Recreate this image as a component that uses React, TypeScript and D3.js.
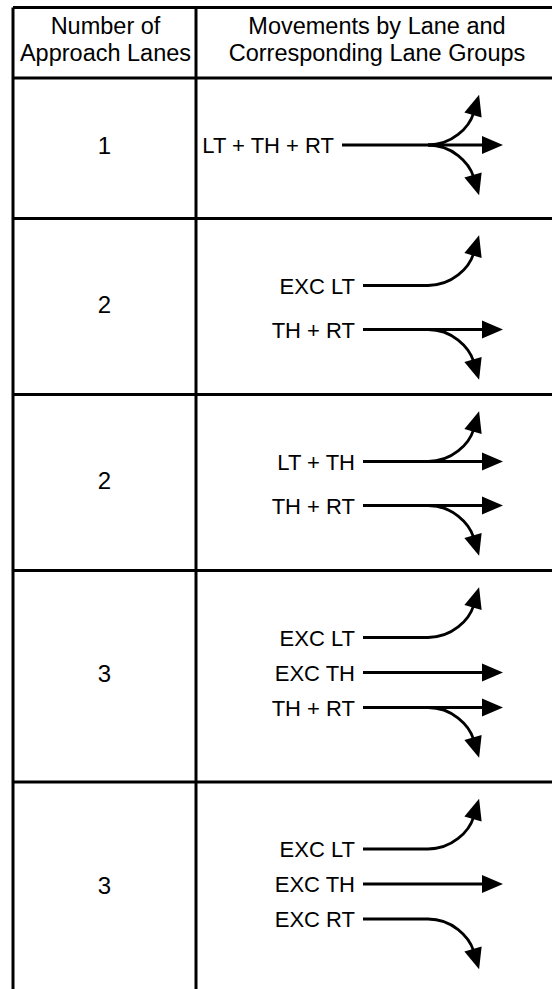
import React from 'react'
import * as d3 from 'd3'

// table content
const laneCounts = ['1', '2', '2', '3', '3']
const headerLeft = ['Number of', 'Approach Lanes']
const headerRight = ['Movements by Lane and', 'Corresponding Lane Groups']
const laneLabels = [
  ['LT + TH + RT'],
  ['EXC LT', 'TH + RT'],
  ['LT + TH', 'TH + RT'],
  ['EXC LT', 'EXC TH', 'TH + RT'],
  ['EXC LT', 'EXC TH', 'EXC RT']
]
const laneMovements = [
  [['LT', 'TH', 'RT']],
  [['LT'], ['TH', 'RT']],
  [['LT', 'TH'], ['TH', 'RT']],
  [['LT'], ['TH'], ['TH', 'RT']],
  [['LT'], ['TH'], ['RT']]
]

const width = 552
const height = 989
const font = '"Liberation Sans", Arial, sans-serif'

const tableLeft = 13
const colDivider = 196
const tableRight = 558
const tableTop = 7.5
const headerBottom = 78

const headLen = 21
const headHalf = 9
const throughTip = 503
const branchX = 428

const rowHeight = (n: number) => 105 + 35.5 * n

function arrowHead(tip: number[], dir: number[]) {
  const bx = tip[0] - dir[0] * headLen
  const by = tip[1] - dir[1] * headLen
  const px = -dir[1] * headHalf
  const py = dir[0] * headHalf
  const p = d3.path()
  p.moveTo(tip[0], tip[1])
  p.lineTo(bx + px, by + py)
  p.lineTo(bx - px, by - py)
  p.closePath()
  return p.toString()
}

function Lane({ y, label, moves, lineStart }: { y: number, label: string, moves: string[], lineStart: number }) {
  const hasTH = moves.includes('TH')
  const stem = d3.path()
  stem.moveTo(lineStart, y)
  stem.lineTo(hasTH ? throughTip - headLen + 2 : branchX, y)

  const turns = moves.filter(m => m !== 'TH').map(m => {
    const sgn = m === 'LT' ? -1 : 1
    const dir = [0.29, sgn * 0.96]
    const end = [branchX + 45, y + sgn * 30]
    const c = d3.path()
    c.moveTo(branchX, y)
    c.bezierCurveTo(branchX + 24, y, end[0] - dir[0] * 13, end[1] - dir[1] * 13, end[0] + dir[0] * 2, end[1] + dir[1] * 2)
    const tip = [end[0] + dir[0] * headLen, end[1] + dir[1] * headLen]
    return { key: m, curve: c.toString(), head: arrowHead(tip, dir) }
  })

  return (
    <g>
      <text x={lineStart - 8} y={y + 8} textAnchor="end" fontSize={22} fontFamily={font} fill="#000">{label}</text>
      <path d={stem.toString()} stroke="#000" strokeWidth={2.8} fill="none" />
      {hasTH && <path d={arrowHead([throughTip, y], [1, 0])} fill="#000" />}
      {turns.map(t => (
        <g key={t.key}>
          <path d={t.curve} stroke="#000" strokeWidth={2.8} fill="none" />
          <path d={t.head} fill="#000" />
        </g>
      ))}
    </g>
  )
}

export default function App() {
  const heights = laneLabels.map(l => rowHeight(l.length))
  const tops = [headerBottom, ...Array.from(d3.cumsum(heights)).map(h => headerBottom + h)]
  const leftMid = (tableLeft + colDivider) / 2
  const rightMid = (colDivider + tableRight) / 2

  return (
    <div style={{ position: 'absolute', left: 0, top: 0 }}>
      <svg width={width} height={height} style={{ display: 'block', background: '#fff' }}>
        {/* grid */}
        <g stroke="#000" strokeWidth={3}>
          <line x1={tableLeft} x2={tableRight} y1={tableTop} y2={tableTop} />
          {tops.map((t, i) => (
            <line key={i} x1={tableLeft} x2={tableRight} y1={t} y2={t} />
          ))}
          <line x1={tableLeft} x2={tableLeft} y1={tableTop} y2={tops[tops.length - 1]} />
          <line x1={colDivider} x2={colDivider} y1={tableTop} y2={tops[tops.length - 1]} />
          <line x1={tableRight} x2={tableRight} y1={tableTop} y2={tops[tops.length - 1]} />
        </g>

        {/* header */}
        <g fontFamily={font} fontSize={23.5} fill="#000" textAnchor="middle">
          {headerLeft.map((t, i) => (
            <text key={i} x={leftMid + 1} y={34 + i * 27}>{t}</text>
          ))}
          {headerRight.map((t, i) => (
            <text key={i} x={rightMid} y={34 + i * 27}>{t}</text>
          ))}
        </g>

        {/* rows */}
        {laneCounts.map((count, r) => {
          const top = tops[r]
          const n = laneLabels[r].length
          const spacing = n === 2 ? 44 : 35
          const yLane = d3.scalePoint<number>()
            .domain(d3.range(n))
            .range([top + 67, top + 67 + spacing * (n - 1)])
          const lineStart = n === 1 ? 342 : 363
          return (
            <g key={r}>
              <text x={leftMid} y={top + heights[r] / 2 + 6} textAnchor="middle" fontSize={24} fontFamily={font} fill="#000">{count}</text>
              {laneLabels[r].map((label, j) => (
                <Lane key={j} y={yLane(j) as number} label={label} moves={laneMovements[r][j]} lineStart={lineStart} />
              ))}
            </g>
          )
        })}
      </svg>
    </div>
  )
}
